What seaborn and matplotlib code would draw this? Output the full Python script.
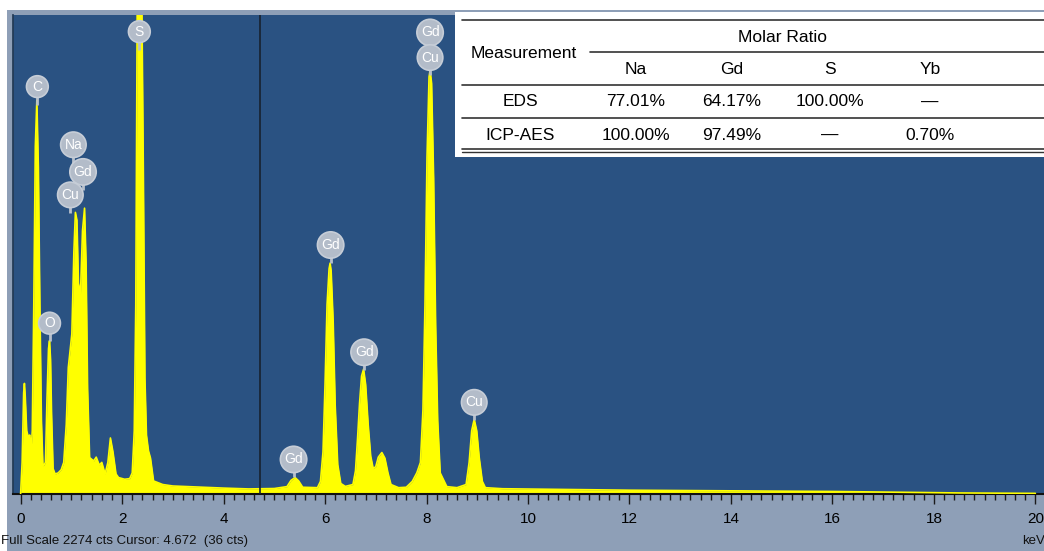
import numpy as np
import pandas as pd
import seaborn as sns
import matplotlib.pyplot as plt

# spectrum (keV, counts)
energy = [0.00, 0.03, 0.06, 0.075, 0.09, 0.12, 0.155, 0.18, 0.21,
          0.23, 0.26, 0.29, 0.32, 0.35, 0.38, 0.41, 0.44,
          0.49, 0.52, 0.55, 0.57, 0.59, 0.61, 0.64, 0.68, 0.74, 0.80, 0.85,
          0.90, 0.94, 0.975, 1.01, 1.05, 1.08, 1.11, 1.14, 1.18, 1.22, 1.26,
          1.29, 1.32, 1.36, 1.44, 1.49, 1.55, 1.60, 1.665, 1.72, 1.77, 1.82,
          1.88, 1.93, 2.05, 2.15, 2.20, 2.24, 2.27, 2.30, 2.38, 2.42, 2.45,
          2.48, 2.52, 2.56, 2.62, 2.8, 3.0, 3.3, 3.6, 4.0, 4.5, 5.0, 5.25,
          5.33, 5.41, 5.48, 5.56, 5.85, 5.91, 5.96, 6.00, 6.04, 6.08, 6.10,
          6.12, 6.16, 6.20, 6.25, 6.31, 6.40, 6.55, 6.60, 6.64, 6.68, 6.72,
          6.76, 6.80, 6.85, 6.90, 6.95, 7.00, 7.05, 7.12, 7.18, 7.24, 7.30,
          7.45, 7.60, 7.72, 7.81, 7.88, 7.93, 7.97, 8.01, 8.05, 8.07, 8.10,
          8.14, 8.18, 8.22, 8.27, 8.40, 8.60, 8.78, 8.84, 8.89, 8.94, 8.99,
          9.04, 9.10, 9.16, 9.5, 10.5, 12.0, 14.0, 16.0, 17.5, 18.5, 20.0]
counts = [0, 150, 480, 525, 470, 300, 268, 280, 220,
          300, 900, 1650, 1870, 1550, 900, 350, 130,
          150, 450, 690, 728, 640, 380, 120, 95, 100, 115, 150,
          330, 600, 680, 760, 1150, 1337, 1300, 1000, 950, 1250, 1357,
          1100, 500, 173, 157, 175, 137, 150, 95, 150, 266, 200,
          95, 78, 70, 73, 100, 300, 900, 2400, 2600, 1500, 550,
          280, 205, 170, 62, 45, 38, 35, 32, 28, 24, 26, 35,
          65, 78, 62, 32, 30, 60, 200, 520, 900, 1070, 1096,
          1060, 820, 420, 140, 50, 36, 45, 110, 260, 430, 560,
          593, 520, 330, 180, 120, 130, 175, 197, 170, 100, 45,
          30, 32, 60, 101, 150, 400, 900, 1600, 1980, 2012, 1950,
          1500, 800, 350, 100, 35, 30, 45, 150, 300, 355, 300,
          170, 60, 30, 25, 22, 18, 15, 12, 8, 5, 3]

# peak labels: element, bubble position (keV, counts)
label_el = ['C', 'S', 'Na', 'Gd', 'Cu', 'O', 'Gd', 'Gd', 'Gd', 'Cu', 'Gd', 'Cu']
label_e = [0.33, 2.34, 1.04, 1.23, 0.98, 0.57, 5.38, 6.11, 6.77, 8.94, 8.07, 8.07]
label_c = [1934, 2195, 1658, 1529, 1420, 811, 164, 1182, 673, 435, 2191, 2072]

# table
tab_cols = ['Na', 'Gd', 'S', 'Yb']
tab_rows = ['EDS', 'ICP-AES']
tab_vals = [['77.01%', '64.17%', '100.00%', '—'],
            ['100.00%', '97.49%', '—', '0.70%']]

cursor_kev = 4.672
full_scale = 2274

df = pd.DataFrame({'keV': energy, 'cts': counts})

sns.set_theme(style='white')
plt.rcParams['font.family'] = ['Liberation Sans', 'DejaVu Sans']

W, H = 1044, 551
fig = plt.figure(figsize=(W / 100, H / 100), dpi=100)
fig.patch.set_facecolor('#8e9fb7')

# pixel overlay for frame and table
ov = fig.add_axes([0, 0, 1, 1], zorder=0)
ov.set_xlim(0, W)
ov.set_ylim(H, 0)
ov.axis('off')
ov.add_patch(plt.Rectangle((0, 0), W, 10, color='white', lw=0))
ov.add_patch(plt.Rectangle((0, 0), 7, H, color='white', lw=0))

ax = fig.add_axes([13 / W, (H - 494) / H, (W - 13) / W, (494 - 15) / H], zorder=1)
ax.set_facecolor('#2a5282')
ax.set_xlim(-0.15, 20.17)
ax.set_ylim(0, full_scale)

ax.fill_between(df['keV'], df['cts'], 0, color='#ffff00', lw=0, zorder=2)
sns.lineplot(data=df, x='keV', y='cts', color='#ffff00', lw=1.2, ax=ax, zorder=3)
ax.axvline(cursor_kev + 0.04, color='#17212e', lw=1.2, zorder=4)

for el, e, c in zip(label_el, label_e, label_c):
    ax.vlines(e, c - 85, c, color='#b8c0cc', lw=2, zorder=5)
    ax.text(e, c, el, ha='center', va='center', fontsize=10, color='white', zorder=6,
            bbox=dict(boxstyle='circle,pad=0.28', fc='#b3bcc9', ec='#c6cdd7', lw=1.2))

ax.set_xticks(np.arange(0, 21, 2))
ax.set_xticks(np.arange(0, 20.1, 0.2), minor=True)
ax.set_yticks([])
ax.set_xlabel('')
ax.set_ylabel('')
ax.tick_params(axis='x', which='major', direction='out', length=7, width=1,
               color='#1a1a1a', labelsize=11, labelcolor='black', pad=6, bottom=True)
ax.tick_params(axis='x', which='minor', direction='out', length=4, width=1,
               color='#1a1a1a', bottom=True)
for s in ['top', 'right']:
    ax.spines[s].set_visible(False)
ax.spines['bottom'].set_color('#111111')
ax.spines['bottom'].set_linewidth(1.5)
ax.spines['left'].set_color('#223a55')

# status texts
fig.text(1 / W, 1 - 541 / H, 'Full Scale 2274 cts Cursor: 4.672  (36 cts)',
         fontsize=9.5, va='center', ha='left', color='#111111')
fig.text(1022 / W, 1 - 541 / H, 'keV', fontsize=9.5, va='center', ha='left', color='#111111')

# table drawn in pixel overlay on top
tb = fig.add_axes([0, 0, 1, 1], zorder=2)
tb.set_xlim(0, W)
tb.set_ylim(H, 0)
tb.axis('off')
tb.add_patch(plt.Rectangle((455, 12), W - 455, 145, color='white', lw=0))
lc = '#333333'
tb.plot([462, W], [20, 20], color=lc, lw=1.2)
tb.plot([590, W], [52, 52], color=lc, lw=1.2)
tb.plot([462, W], [85, 85], color=lc, lw=1.2)
tb.plot([462, W], [118, 118], color=lc, lw=1.2)
tb.plot([462, W], [149, 149], color=lc, lw=1.2)
tb.plot([462, W], [152, 152], color=lc, lw=1.0)
fs = 12.5
tb.text(524, 54, 'Measurement', fontsize=fs, ha='center', va='center', color='black')
tb.text(782, 37, 'Molar Ratio', fontsize=fs, ha='center', va='center', color='black')
col_x = [636, 732, 830, 930]
for x, name in zip(col_x, tab_cols):
    tb.text(x, 70, name, fontsize=fs, ha='center', va='center', color='black')
row_y = [102, 135]
for y, rname, vals in zip(row_y, tab_rows, tab_vals):
    tb.text(520, y, rname, fontsize=fs, ha='center', va='center', color='black')
    for x, v in zip(col_x, vals):
        tb.text(x, y, v, fontsize=fs, ha='center', va='center', color='black')

fig.savefig('out.png', dpi=100)
